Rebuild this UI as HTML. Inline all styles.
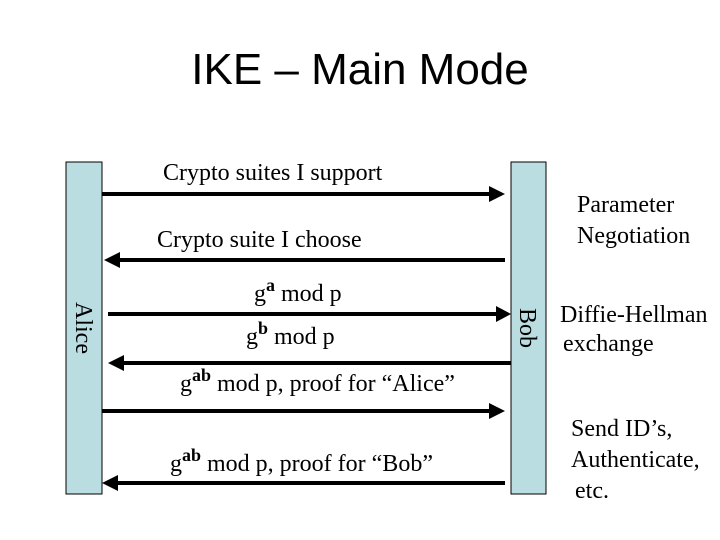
<!DOCTYPE html>
<html><head><meta charset="utf-8"><style>
body{margin:0;background:#fff}
svg{display:block}
text{font-family:"Liberation Serif",serif;font-size:24px;fill:#000}
</style></head><body>
<svg width="720" height="540" xmlns="http://www.w3.org/2000/svg">
<text x="360" y="84" text-anchor="middle" style="font-family:'Liberation Sans',sans-serif;font-size:44px">IKE – Main Mode</text>
<rect x="66" y="162" width="36" height="332" fill="#b9dde1" stroke="#000" stroke-width="1"/>
<rect x="511" y="162" width="35" height="332" fill="#b9dde1" stroke="#000" stroke-width="1"/>
<text transform="translate(76,328) rotate(90)" text-anchor="middle">Alice</text>
<text transform="translate(520,328) rotate(90)" text-anchor="middle">Bob</text>
<g stroke="#000" stroke-width="4">
<line x1="102" y1="194" x2="492" y2="194"/>
<line x1="118" y1="260" x2="505" y2="260"/>
<line x1="108" y1="314" x2="498" y2="314"/>
<line x1="122" y1="363" x2="511" y2="363"/>
<line x1="102" y1="411" x2="492" y2="411"/>
<line x1="118" y1="483" x2="505" y2="483"/>
</g>
<g fill="#000">
<polygon points="489,186 505,194 489,202"/>
<polygon points="120,252 104,260 120,268"/>
<polygon points="496,306 511,314 496,322"/>
<polygon points="124,355 108,363 124,371"/>
<polygon points="489,403 505,411 489,419"/>
<polygon points="118,475 102,483 118,491"/>
</g>
<text x="163" y="180">Crypto suites I support</text>
<text x="157" y="247">Crypto suite I choose</text>
<text x="254" y="301">g<tspan dy="-10" font-weight="bold" font-size="18">a</tspan><tspan dy="10"> mod p</tspan></text>
<text x="246" y="344">g<tspan dy="-10" font-weight="bold" font-size="18">b</tspan><tspan dy="10"> mod p</tspan></text>
<text x="180" y="391">g<tspan dy="-10" font-weight="bold" font-size="18">ab</tspan><tspan dy="10"> mod p, proof for “Alice”</tspan></text>
<text x="170" y="471">g<tspan dy="-10" font-weight="bold" font-size="18">ab</tspan><tspan dy="10"> mod p, proof for “Bob”</tspan></text>
<text x="577" y="212">Parameter</text>
<text x="577" y="243">Negotiation</text>
<text x="560" y="322">Diffie-Hellman</text>
<text x="563" y="351">exchange</text>
<text x="571" y="436">Send ID’s,</text>
<text x="571" y="467">Authenticate,</text>
<text x="575" y="498">etc.</text>
</svg>
</body></html>
